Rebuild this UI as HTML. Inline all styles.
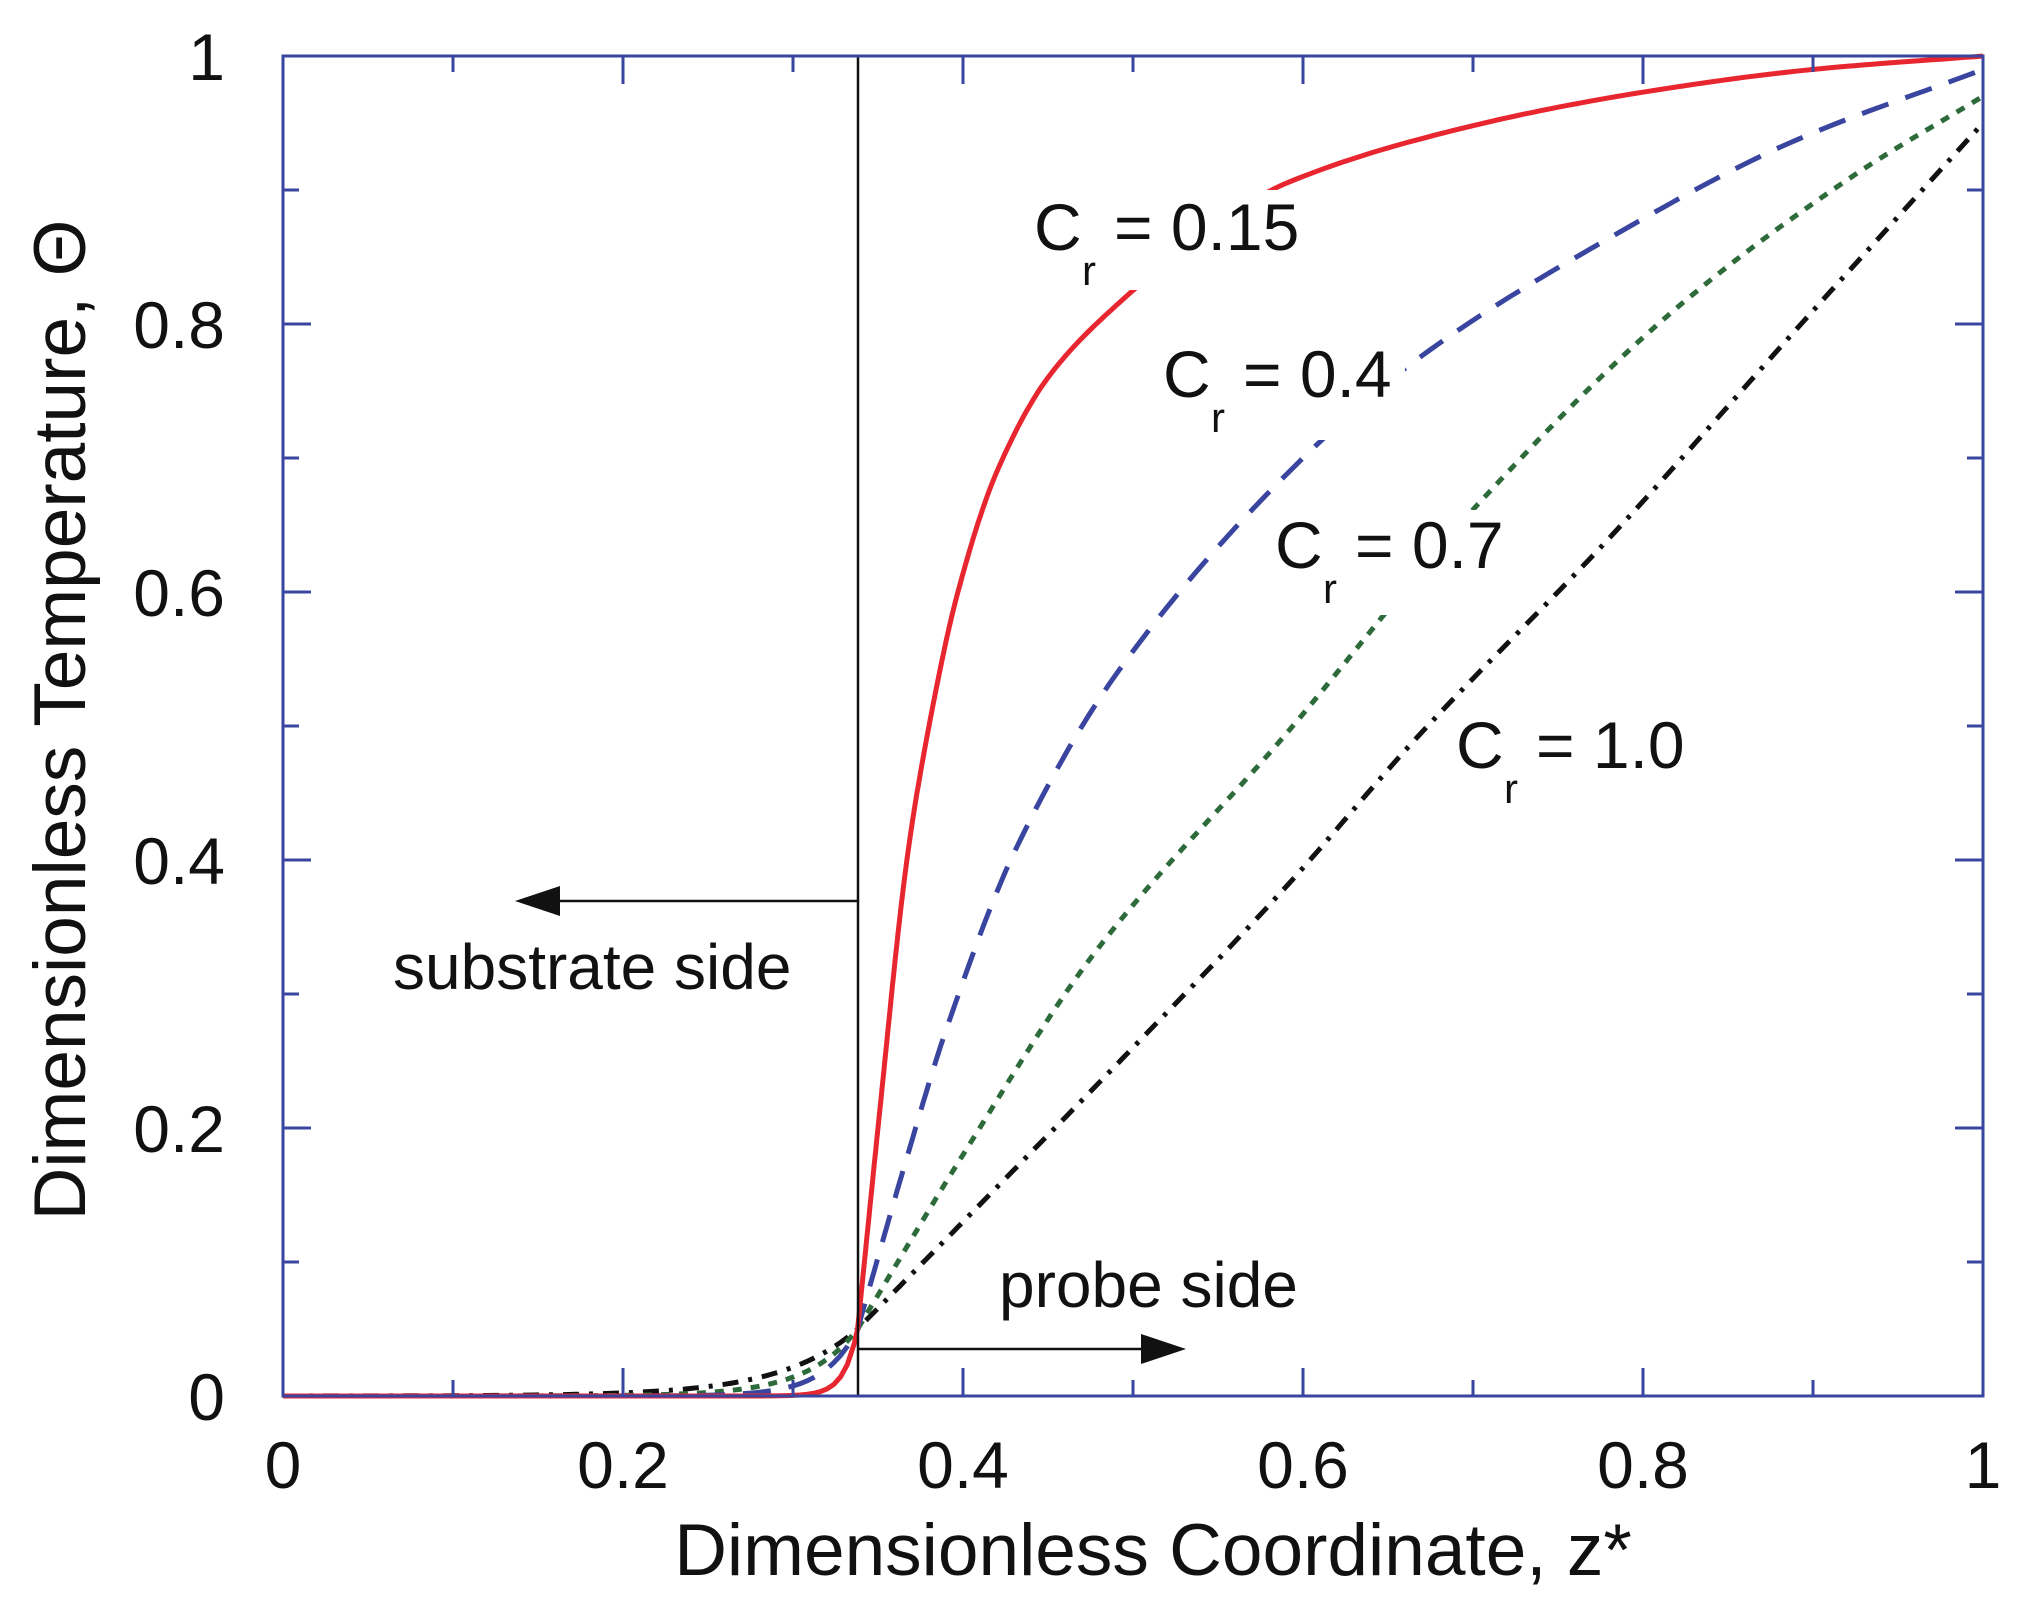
<!DOCTYPE html>
<html><head><meta charset="utf-8"><style>
html,body{margin:0;padding:0;background:#fff}
svg{display:block}
text{font-family:"Liberation Sans",sans-serif;fill:#111}
</style></head><body>
<svg id="s" width="2018" height="1605" xmlns="http://www.w3.org/2000/svg">
<g id="curves"></g>
<line x1="858" y1="56" x2="858" y2="1396" stroke="#111" stroke-width="2.5"/>
<g id="ticks" stroke="#3a45a0" stroke-width="3"></g>
<rect x="283" y="56" width="1700" height="1340" fill="none" stroke="#3a45a0" stroke-width="3"/>
<rect x="1030" y="190" width="290" height="100" fill="#fff"/>
<text x="1034" y="250" font-size="66">C</text><text x="1082" y="285" font-size="42">r</text><text x="1114" y="250" font-size="66">= 0.15</text>
<rect x="1160" y="340" width="245" height="100" fill="#fff"/>
<text x="1163" y="397" font-size="66">C</text><text x="1211" y="432" font-size="42">r</text><text x="1243" y="397" font-size="66">= 0.4</text>
<rect x="1270" y="510" width="250" height="105" fill="#fff"/>
<text x="1275" y="568" font-size="66">C</text><text x="1323" y="603" font-size="42">r</text><text x="1355" y="568" font-size="66">= 0.7</text>
<rect x="1450" y="710" width="250" height="100" fill="#fff"/>
<text x="1456" y="768" font-size="66">C</text><text x="1504" y="803" font-size="42">r</text><text x="1536" y="768" font-size="66">= 1.0</text>
<line x1="857" y1="901" x2="545" y2="901" stroke="#111" stroke-width="2.5"/>
<polygon points="515,901 560,886 560,916" fill="#111"/>
<text x="393" y="989" font-size="64">substrate side</text>
<line x1="857" y1="1349" x2="1150" y2="1349" stroke="#111" stroke-width="2.5"/>
<polygon points="1186,1349 1141,1334 1141,1364" fill="#111"/>
<text x="999" y="1307" font-size="64">probe side</text>
<g id="tl" font-size="66"></g>
<text x="1153" y="1575" font-size="73" text-anchor="middle">Dimensionless Coordinate, z*</text>
<text transform="translate(85,720) rotate(-90)" font-size="73" text-anchor="middle">Dimensionless Temperature, Θ</text>
</svg>
<script>
const X=z=>283+1700*z, Y=t=>1396-1340*t;
const NS="http://www.w3.org/2000/svg";
function el(p,tag,a,txt){const e=document.createElementNS(NS,tag);for(const k in a)e.setAttribute(k,a[k]);if(txt)e.textContent=txt;p.appendChild(e);return e;}
const tk=document.getElementById('ticks'),tl=document.getElementById('tl');
for(let i=0;i<=10;i++){const v=i/10,L=i%2?16:28;
 const x=X(v),y=Y(v);
 el(tk,'line',{x1:x,y1:1396,x2:x,y2:1396-L});el(tk,'line',{x1:x,y1:56,x2:x,y2:56+L});
 el(tk,'line',{x1:283,y1:y,x2:283+L,y2:y});el(tk,'line',{x1:1983,y1:y,x2:1983-L,y2:y});
 if(i%2==0){const s=i==0?'0':i==10?'1':v.toFixed(1);
  el(tl,'text',{x:x,y:1488,'text-anchor':'middle'},s);
  el(tl,'text',{x:225,y:y+24,'text-anchor':'end'},s);}
}
function left(a){const p=[];for(let z=0;z<=0.338;z+=0.004)p.push([z,0.05*Math.exp((z-0.338)/a)]);return p;}
function mono(P){const n=P.length,d=[],m=[];
 for(let i=0;i<n-1;i++)d.push((P[i+1][1]-P[i][1])/(P[i+1][0]-P[i][0]));
 m[0]=d[0];m[n-1]=d[n-2];
 for(let i=1;i<n-1;i++){m[i]=d[i-1]*d[i]<=0?0:2/(1/d[i-1]+1/d[i]);}
 const R=[];
 for(let i=0;i<n-1;i++){const h=P[i+1][0]-P[i][0];
  for(let t=0;t<1;t+=0.05){const t2=t*t,t3=t2*t;
   R.push([P[i][0]+h*t,(2*t3-3*t2+1)*P[i][1]+(t3-2*t2+t)*h*m[i]+(-2*t3+3*t2)*P[i+1][1]+(t3-t2)*h*m[i+1]]);}}
 R.push(P[n-1]);return R;}
const series=[
 {c:'#e8262f',d:'',a:0.008,p:[[0.338,0.05],[0.342,0.1],[0.35,0.2],[0.367,0.4],[0.38,0.5],[0.397,0.6],[0.42,0.69],[0.45,0.76],[0.492,0.816],[0.54,0.865],[0.59,0.905],[0.7,0.948],[0.8,0.973],[0.9,0.99],[1,1]]},
 {c:'#3a45a0',d:'28 18',a:0.02,p:[[0.338,0.05],[0.367,0.178],[0.39,0.273],[0.431,0.408],[0.492,0.542],[0.6,0.7],[0.674,0.78],[0.78,0.864],[0.886,0.935],[1,0.99]]},
 {c:'#2e6b3a',d:'9 9',a:0.03,p:[[0.338,0.05],[0.4,0.18],[0.477,0.33],[0.59,0.494],[0.704,0.667],[0.818,0.81],[0.923,0.91],[1,0.97]]},
 {c:'#111',d:'16 10 4 10',a:0.045,p:[[0.338,0.05],[0.4,0.13],[0.5,0.26],[0.59,0.38],[0.666,0.49],[0.78,0.64],[0.893,0.8],[1,0.95]]}
];
const g=document.getElementById('curves');
for(const s of series.slice().reverse()){
 const pts=left(s.a).concat(mono(s.p)).map(p=>X(p[0]).toFixed(1)+','+Y(p[1]).toFixed(1)).join(' ');
 const a={points:pts,fill:'none',stroke:s.c,'stroke-width':5,'stroke-linejoin':'round'};
 if(s.d)a['stroke-dasharray']=s.d;
 el(g,'polyline',a);
}
</script>
</body></html>
